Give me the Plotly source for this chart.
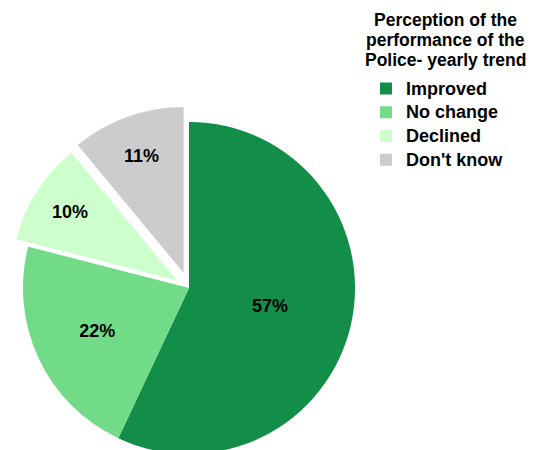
import plotly.graph_objects as go

# perception of police performance, yearly trend
labels = ["Improved", "No change", "Declined", "Don't know"]
shares = [57, 22, 10, 11]
colors = ["#128e48", "#72db88", "#ccffcc", "#cccccc"]
pulls = [0, 0, 0.085, 0.096]

title_lines = ["Perception of the", "performance of the", "Police- yearly trend"]

W, H = 541, 470
FONT = "Arial, Liberation Sans"

# legend spacing follows the 16px legend font, text drawn a bit bigger
legend_text = ["<span style='font-size:18px'><b>%s</b></span>" % s for s in labels]

fig = go.Figure(go.Pie(
    labels=legend_text,
    values=shares,
    customdata=labels,
    sort=False,
    direction="clockwise",
    rotation=0,
    pull=pulls,
    marker=dict(colors=colors, line=dict(width=0)),
    texttemplate="%{value}%",
    textposition="inside",
    insidetextorientation="horizontal",
    textfont=dict(family=FONT, size=18, color="black", weight="bold"),
    domain=dict(x=[0.013, 0.6857], y=[0.0, 0.7745]),
    hovertemplate="%{customdata}: %{value}%<extra></extra>",
))

for i, line in enumerate(title_lines):
    fig.add_annotation(
        text="<b>" + line + "</b>",
        xref="paper", yref="paper", x=445 / W, y=1 - (20 + 20 * i) / H,
        xanchor="center", yanchor="middle", align="center", showarrow=False,
        font=dict(family=FONT, size=17.5, color="black"),
    )

fig.update_layout(
    width=W, height=H,
    margin=dict(l=0, r=0, t=0, b=0),
    paper_bgcolor="white",
    showlegend=True,
    legend=dict(
        x=366 / W, y=1 - 71.5 / H, xanchor="left", yanchor="top",
        font=dict(family=FONT, size=16, color="black"),
        itemwidth=30, tracegroupgap=0,
    ),
)

fig.write_html(
    "out.html",
    config={"displayModeBar": False},
    post_script="document.body.style.margin='0';"
                "document.body.style.overflow='hidden';"
                "document.documentElement.style.overflow='hidden';",
)
